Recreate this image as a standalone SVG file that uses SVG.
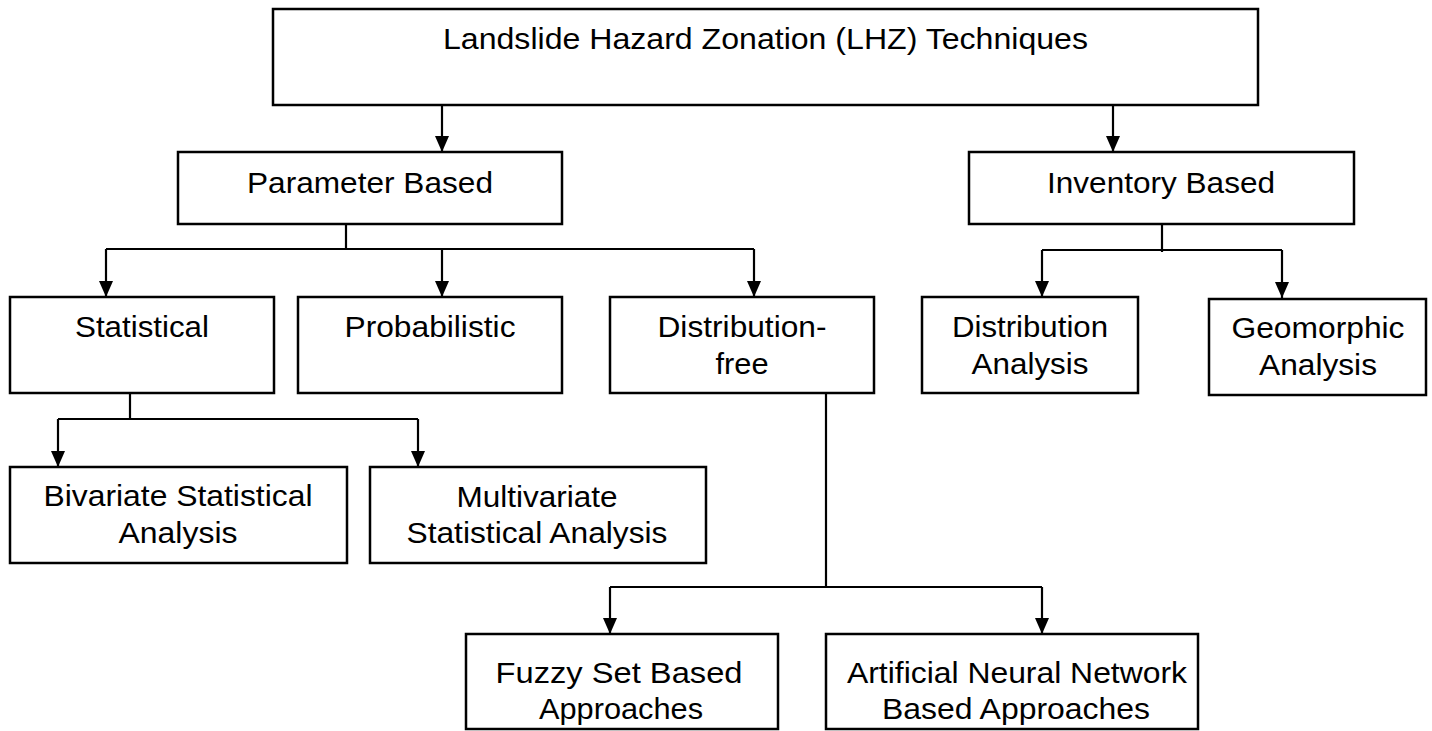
<svg xmlns="http://www.w3.org/2000/svg" width="1432" height="731" viewBox="0 0 1432 731">
<style>
.box{fill:#fff;stroke:#000;stroke-width:2.5}
.t{font-family:"Liberation Sans",Arial,sans-serif;font-size:30px;fill:#000;text-anchor:middle}
.c{fill:none;stroke:#000;stroke-width:2.2}
</style>
<defs>
<marker id="arr" viewBox="0 0 16 14" markerWidth="16" markerHeight="14" refX="16" refY="7" orient="auto" markerUnits="userSpaceOnUse">
<path d="M0,0 L16,7 L0,14 z" fill="#000"/>
</marker>
</defs>
<rect width="1432" height="731" fill="#fff"/>
<g id="connectors">
<path class="c" d="M442,105 V152" marker-end="url(#arr)"/>
<path class="c" d="M1113,105 V152" marker-end="url(#arr)"/>
<path class="c" d="M346,224 V249 M106,249 H754"/>
<path class="c" d="M106,249 V297" marker-end="url(#arr)"/>
<path class="c" d="M442,249 V297" marker-end="url(#arr)"/>
<path class="c" d="M754,249 V297" marker-end="url(#arr)"/>
<path class="c" d="M1162,224 V252 M1042,250 H1282"/>
<path class="c" d="M1042,250 V297" marker-end="url(#arr)"/>
<path class="c" d="M1282,250 V298" marker-end="url(#arr)"/>
<path class="c" d="M130,393 V419 M58,419 H418"/>
<path class="c" d="M58,419 V467" marker-end="url(#arr)"/>
<path class="c" d="M418,419 V467" marker-end="url(#arr)"/>
<path class="c" d="M826,393 V587 M610,587 H1042"/>
<path class="c" d="M610,587 V634" marker-end="url(#arr)"/>
<path class="c" d="M1042,587 V634" marker-end="url(#arr)"/>
</g>
<g id="lhz">
<rect class="box" x="273" y="9" width="985" height="96"/>
<text class="t" x="765.5" y="49" textLength="645" lengthAdjust="spacingAndGlyphs">Landslide Hazard Zonation (LHZ) Techniques</text>
</g>
<g id="parameter">
<rect class="box" x="178" y="152" width="384" height="72"/>
<text class="t" x="370" y="193" textLength="246" lengthAdjust="spacingAndGlyphs">Parameter Based</text>
</g>
<g id="inventory">
<rect class="box" x="969" y="152" width="385" height="72"/>
<text class="t" x="1161" y="193" textLength="228" lengthAdjust="spacingAndGlyphs">Inventory Based</text>
</g>
<g id="statistical">
<rect class="box" x="10" y="297" width="264" height="96"/>
<text class="t" x="142" y="337" textLength="134" lengthAdjust="spacingAndGlyphs">Statistical</text>
</g>
<g id="probabilistic">
<rect class="box" x="298" y="297" width="264" height="96"/>
<text class="t" x="430" y="337" textLength="171" lengthAdjust="spacingAndGlyphs">Probabilistic</text>
</g>
<g id="distfree">
<rect class="box" x="610" y="297" width="264" height="96"/>
<text class="t" x="742" y="337" textLength="169" lengthAdjust="spacingAndGlyphs">Distribution-</text>
<text class="t" x="742" y="374" textLength="53" lengthAdjust="spacingAndGlyphs">free</text>
</g>
<g id="distanalysis">
<rect class="box" x="922" y="297" width="216" height="96"/>
<text class="t" x="1030" y="337" textLength="156" lengthAdjust="spacingAndGlyphs">Distribution</text>
<text class="t" x="1030" y="374" textLength="117" lengthAdjust="spacingAndGlyphs">Analysis</text>
</g>
<g id="geomorphic">
<rect class="box" x="1209" y="299" width="217" height="96"/>
<text class="t" x="1318" y="338" textLength="173" lengthAdjust="spacingAndGlyphs">Geomorphic</text>
<text class="t" x="1318" y="375" textLength="118" lengthAdjust="spacingAndGlyphs">Analysis</text>
</g>
<g id="bivariate">
<rect class="box" x="10" y="467" width="337" height="96"/>
<text class="t" x="178" y="506" textLength="269" lengthAdjust="spacingAndGlyphs">Bivariate Statistical</text>
<text class="t" x="178" y="543" textLength="119" lengthAdjust="spacingAndGlyphs">Analysis</text>
</g>
<g id="multivariate">
<rect class="box" x="370" y="467" width="336" height="96"/>
<text class="t" x="537" y="507" textLength="161" lengthAdjust="spacingAndGlyphs">Multivariate</text>
<text class="t" x="537" y="543" textLength="261" lengthAdjust="spacingAndGlyphs">Statistical Analysis</text>
</g>
<g id="fuzzy">
<rect class="box" x="466" y="634" width="312" height="95"/>
<text class="t" x="619" y="683" textLength="247" lengthAdjust="spacingAndGlyphs">Fuzzy Set Based</text>
<text class="t" x="621" y="719" textLength="164" lengthAdjust="spacingAndGlyphs">Approaches</text>
</g>
<g id="ann">
<rect class="box" x="826" y="634" width="372" height="95"/>
<text class="t" x="1017" y="683" textLength="340" lengthAdjust="spacingAndGlyphs">Artificial Neural Network</text>
<text class="t" x="1016" y="719" textLength="268" lengthAdjust="spacingAndGlyphs">Based Approaches</text>
</g>
</svg>
